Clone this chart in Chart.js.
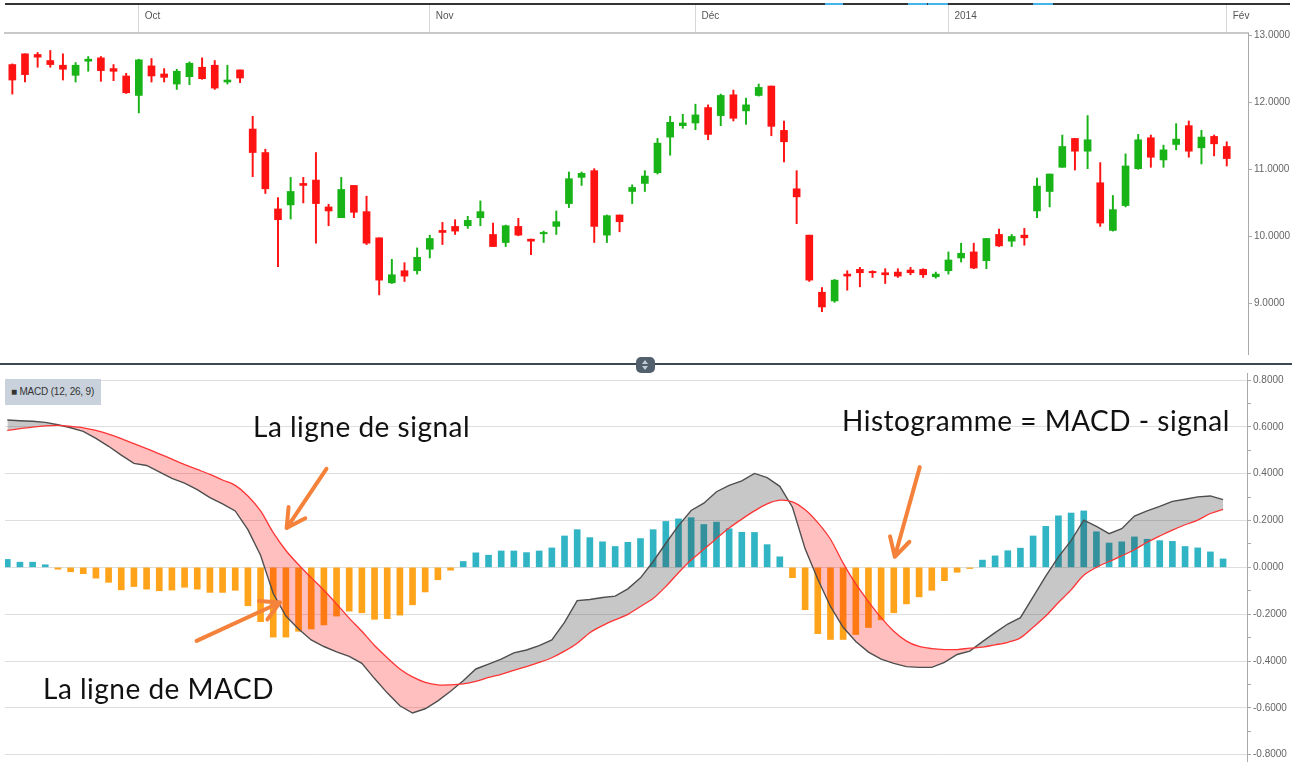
<!DOCTYPE html>
<html>
<head>
<meta charset="utf-8">
<script src="https://cdn.jsdelivr.net/npm/chart.js@4.4.1/dist/chart.umd.min.js"></script>
<style>
  html, body { margin: 0; padding: 0; background: #fff; }
  #wrap { position: relative; width: 1304px; height: 769px; overflow: hidden; background: #fff; }
  canvas { position: absolute; left: 0; }
  #price { top: 0; }
  #macd  { top: 365px; }
  .topline { position: absolute; left: 5px; top: 3px; width: 1285px; height: 2px; background: #333; }
  .blip { position: absolute; top: 3px; height: 2px; background: #45b4ea; }
  .sep { position: absolute; left: 0; top: 363px; width: 1292px; height: 2px; background: #3e4852; }
  .handle { position: absolute; left: 636px; top: 357px; width: 19px; height: 16px; border-radius: 5px; background: #52606e; }
  .handle .up, .handle .dn { position: absolute; left: 6px; width: 0; height: 0; border-left: 3.5px solid transparent; border-right: 3.5px solid transparent; }
  .handle .up { top: 3px; border-bottom: 4px solid #c3ccd6; }
  .handle .dn { top: 9px; border-top: 4px solid #c3ccd6; }
  .badge { position: absolute; left: 5px; top: 379px; width: 96px; height: 26px; background: #c9d2dc;
           font: 10px "Liberation Sans", Arial, sans-serif; color: #333; line-height: 26px; padding-left: 6px;
           box-sizing: border-box; letter-spacing: -0.2px; white-space: nowrap; }
  .note { position: absolute; font-family: Lato, "Open Sans", sans-serif; font-size: 28px; line-height: 1;
          letter-spacing: 0.5px; color: #111; white-space: nowrap; }
</style>
</head>
<body>
<div id="wrap">
  <canvas id="price" width="1293" height="362"></canvas>
  <canvas id="macd" width="1293" height="404"></canvas>
  <div class="topline"></div>
  <div class="blip" style="left:825px;width:18px"></div>
  <div class="blip" style="left:908px;width:19px"></div>
  <div class="blip" style="left:928px;width:20px"></div>
  <div class="blip" style="left:1033px;width:20px"></div>
  <div class="sep"></div>
  <div class="handle"><div class="up"></div><div class="dn"></div></div>
  <div class="badge">■ MACD (12, 26, 9)</div>
  <div class="note" style="left:253px;top:412px">La ligne de signal</div>
  <div class="note" style="left:842px;top:406px">Histogramme = MACD - signal</div>
  <div class="note" style="left:43px;top:674px">La ligne de MACD</div>
</div>
<script>
// ---- price candles (one per trading day) ----
const OPEN  = [12.56,12.72,12.71,12.62,12.55,12.40,12.61,12.66,12.50,12.39,12.10,12.54,12.42,12.27,12.38,12.52,12.55,12.30,12.48,11.60,
               11.25,10.41,10.47,10.79,10.84,10.44,10.28,10.76,10.37,9.98,9.31,9.49,9.49,9.81,10.09,10.15,10.16,10.28,10.03,9.91,
               10.15,9.96,10.04,10.15,10.49,10.88,10.98,10.02,10.32,10.67,10.79,10.95,11.48,11.65,11.69,11.92,11.80,12.11,11.87,12.10,
               12.24,11.58,10.71,10.02,9.17,9.04,9.44,9.51,9.48,9.46,9.47,9.50,9.51,9.40,9.49,9.68,9.77,9.64,10.03,9.93,
               10.02,10.38,10.67,11.03,11.46,11.27,10.80,10.09,10.46,11.01,11.47,11.14,11.37,11.65,11.32,11.49,11.34];
const HIGH  = [12.57,12.72,12.74,12.77,12.72,12.59,12.68,12.68,12.56,12.43,12.64,12.65,12.50,12.49,12.60,12.66,12.62,12.55,12.48,11.79,
               11.30,10.58,10.88,10.88,11.25,10.48,10.88,10.76,10.60,9.98,9.66,9.61,9.83,10.02,10.21,10.25,10.30,10.53,10.20,10.17,
               10.27,9.96,10.08,10.38,10.96,10.96,11.01,10.32,10.32,10.77,10.98,11.46,11.79,11.82,11.97,11.96,12.12,12.18,12.06,12.27,
               12.24,11.72,10.98,10.02,9.24,9.36,9.49,9.54,9.49,9.52,9.52,9.54,9.52,9.47,9.77,9.90,9.90,9.97,10.11,10.03,
               10.12,10.87,10.93,11.51,11.46,11.80,11.10,10.61,11.23,11.52,11.51,11.36,11.68,11.72,11.58,11.51,11.41];
const LOW   = [12.12,12.30,12.52,12.52,12.33,12.30,12.46,12.31,12.32,12.13,11.84,12.30,12.30,12.19,12.26,12.34,12.19,12.27,12.29,10.89,
               10.64,9.55,10.26,10.50,9.90,10.16,10.28,10.28,9.88,9.13,9.30,9.33,9.44,9.68,9.88,10.03,10.12,10.16,9.85,9.85,
               10.01,9.73,9.91,10.03,10.43,10.76,9.91,9.91,10.07,10.49,10.67,10.93,11.21,11.61,11.59,11.44,11.65,11.72,11.67,12.09,
               11.50,11.11,10.19,9.33,8.88,9.02,9.20,9.25,9.39,9.30,9.39,9.43,9.39,9.38,9.44,9.62,9.52,9.52,9.85,9.85,
               9.87,10.28,10.44,11.03,10.99,11.01,10.15,10.08,10.44,11.00,11.03,11.03,11.29,11.18,11.08,11.20,11.05];
const CLOSE = [12.33,12.41,12.67,12.56,12.49,12.55,12.64,12.47,12.46,12.14,12.63,12.39,12.37,12.46,12.58,12.35,12.21,12.33,12.36,11.25,
               10.71,10.25,10.67,10.76,10.49,10.38,10.70,10.36,9.90,9.35,9.43,9.41,9.69,9.97,10.06,10.08,10.24,10.37,9.85,10.16,
               10.02,9.93,10.06,10.22,10.86,10.94,10.15,10.31,10.22,10.73,10.90,11.39,11.70,11.69,11.81,11.52,12.10,11.76,11.96,12.22,
               11.64,11.41,10.59,9.35,8.95,9.35,9.41,9.46,9.46,9.43,9.41,9.46,9.43,9.44,9.65,9.75,9.53,9.97,9.86,10.00,
               9.98,10.75,10.93,11.34,11.27,11.44,10.20,10.40,11.05,11.44,11.18,11.29,11.45,11.27,11.48,11.38,11.16];

// ---- MACD (12, 26, 9) panel ----
const MACD   = [0.629,0.626,0.624,0.619,0.609,0.596,0.581,0.551,0.517,0.479,0.444,0.435,0.408,0.380,0.360,0.332,0.298,0.271,0.241,0.161,
                0.052,-0.112,-0.208,-0.263,-0.310,-0.338,-0.361,-0.380,-0.410,-0.475,-0.536,-0.591,-0.622,-0.604,-0.570,-0.529,-0.484,-0.434,-0.413,-0.392,
                -0.365,-0.353,-0.334,-0.310,-0.235,-0.142,-0.137,-0.129,-0.123,-0.092,-0.045,0.025,0.103,0.178,0.243,0.274,0.323,0.350,0.369,0.401,
                0.383,0.346,0.257,0.079,-0.051,-0.167,-0.256,-0.317,-0.362,-0.392,-0.410,-0.424,-0.427,-0.427,-0.406,-0.372,-0.358,-0.317,-0.279,-0.242,
                -0.215,-0.126,-0.037,0.045,0.114,0.202,0.175,0.144,0.165,0.219,0.241,0.260,0.282,0.291,0.301,0.305,0.289];
const SIGNAL = [0.585,0.592,0.599,0.604,0.606,0.602,0.596,0.585,0.569,0.550,0.528,0.507,0.485,0.462,0.439,0.418,0.397,0.373,0.350,0.305,
                0.241,0.148,0.072,0.011,-0.044,-0.098,-0.156,-0.217,-0.273,-0.334,-0.386,-0.434,-0.468,-0.491,-0.502,-0.502,-0.498,-0.487,-0.470,-0.457,
                -0.440,-0.424,-0.406,-0.386,-0.358,-0.324,-0.279,-0.249,-0.224,-0.201,-0.167,-0.133,-0.082,-0.023,0.031,0.077,0.123,0.168,0.206,0.241,
                0.271,0.287,0.280,0.246,0.191,0.120,0.018,-0.071,-0.146,-0.215,-0.273,-0.315,-0.338,-0.347,-0.351,-0.351,-0.345,-0.341,-0.331,-0.320,
                -0.301,-0.256,-0.208,-0.150,-0.096,-0.034,0.000,0.025,0.049,0.075,0.107,0.134,0.159,0.182,0.202,0.230,0.248];
const HIST   = [0.034,0.022,0.022,0.011,-0.008,-0.019,-0.027,-0.046,-0.064,-0.096,-0.082,-0.093,-0.100,-0.097,-0.085,-0.093,-0.107,-0.107,-0.098,-0.164,
                -0.232,-0.298,-0.298,-0.273,-0.263,-0.246,-0.208,-0.187,-0.194,-0.222,-0.219,-0.204,-0.160,-0.105,-0.053,-0.012,0.025,0.062,0.052,0.070,
                0.070,0.063,0.070,0.083,0.134,0.161,0.127,0.109,0.089,0.107,0.123,0.161,0.196,0.207,0.212,0.183,0.193,0.165,0.150,0.149,
                0.097,0.045,-0.044,-0.181,-0.283,-0.308,-0.308,-0.287,-0.257,-0.224,-0.194,-0.156,-0.126,-0.098,-0.057,-0.021,-0.005,0.031,0.049,0.071,
                0.082,0.134,0.175,0.220,0.232,0.241,0.152,0.104,0.109,0.130,0.120,0.114,0.111,0.089,0.083,0.066,0.036];

// ---- axes ----
const MONTH_IDX    = [10, 33, 54, 74, 96];
const MONTH_LABELS = ["Oct", "Nov", "Déc", "2014", "Fév"];
const PRICE_TICKS  = [9, 10, 11, 12, 13];
const MACD_TICKS   = [-0.8, -0.7, -0.6, -0.5, -0.4, -0.3, -0.2, -0.1, 0, 0.1, 0.2, 0.3, 0.4, 0.5, 0.6, 0.7, 0.8];

// annotation arrows, in MACD panel data units: [x, y] tail -> head
const ARROWS = [
  { from: [25.2, 0.421],  to: [22.06, 0.168] },
  { from: [14.95, -0.314], to: [21.53, -0.150] },
  { from: [72.05, 0.428], to: [70.08, 0.045] },
];

const GREEN = "#17b317";
const RED   = "#ff1212";
const TEAL  = "#31b5c5";
const ORANGE = "#ffa31a";
const TICK_FONT = { family: "'Liberation Sans', Arial, sans-serif", size: 10 };

const DAYS = OPEN.map((_, i) => i);
const candleColor = DAYS.map(i => CLOSE[i] >= OPEN[i] ? GREEN : RED);

/** Price panel: floating bars used as candle bodies + wicks */
new Chart(document.getElementById("price"), {
  type: "bar",
  data: {
    datasets: [
      {
        label: "body",
        data: DAYS.map(i => ({ x: i, y: [OPEN[i], CLOSE[i]] })),
        backgroundColor: candleColor,
        barThickness: 7,
        grouped: false,
        borderSkipped: false,
        order: 0,
      },
      {
        label: "wick",
        data: DAYS.map(i => ({ x: i, y: [LOW[i], HIGH[i]] })),
        backgroundColor: candleColor,
        barThickness: 1.3,
        grouped: false,
        borderSkipped: false,
        order: 1,
      },
    ],
  },
  options: {
    responsive: false,
    animation: false,
    devicePixelRatio: 1,
    layout: { padding: { left: 5, top: 4, right: 0, bottom: 0 } },
    plugins: { legend: { display: false }, tooltip: { enabled: false } },
    scales: {
      x: {
        type: "linear",
        position: "top",
        offset: false,
        min: -0.58,
        max: 97.68,
        afterBuildTicks: s => { s.ticks = MONTH_IDX.map(v => ({ value: v })); },
        afterFit: s => { s.height = 29; },
        ticks: {
          callback: (v, i) => MONTH_LABELS[i],
          align: "start",
          labelOffset: 6,
          padding: -17,
          autoSkip: false,
          maxRotation: 0,
          color: "#555",
          font: TICK_FONT,
        },
        grid: { offset: false, drawOnChartArea: false, tickLength: 28, color: "#d6d6d6", lineWidth: 1 },
        border: { color: "#c8c8c8", width: 2 },
      },
      y: {
        position: "right",
        min: 8.25,
        max: 13.03,
        afterBuildTicks: s => { s.ticks = PRICE_TICKS.map(v => ({ value: v })); },
        afterFit: s => { s.width = 45; },
        ticks: { callback: v => v.toFixed(4), color: "#666", font: TICK_FONT, padding: 2, autoSkip: false },
        grid: { drawOnChartArea: false, tickLength: 4, color: "#aaa" },
        border: { color: "#aaa", width: 1 },
      },
    },
  },
});

/** Orange annotation arrows drawn over the MACD panel */
const arrowPlugin = {
  id: "arrows",
  afterDatasetsDraw(chart) {
    const { ctx, scales: { x, y } } = chart;
    ctx.save();
    ctx.strokeStyle = "#f5823a";
    ctx.lineWidth = 4;
    ctx.lineCap = "round";
    ctx.lineJoin = "round";
    ARROWS.forEach(a => {
      const x1 = x.getPixelForValue(a.from[0]), y1 = y.getPixelForValue(a.from[1]);
      const x2 = x.getPixelForValue(a.to[0]),   y2 = y.getPixelForValue(a.to[1]);
      const ang = Math.atan2(y1 - y2, x1 - x2);
      const len = 21, spread = 0.5;
      ctx.beginPath();
      ctx.moveTo(x1, y1);
      ctx.lineTo(x2, y2);
      ctx.moveTo(x2 + len * Math.cos(ang - spread), y2 + len * Math.sin(ang - spread));
      ctx.lineTo(x2, y2);
      ctx.lineTo(x2 + len * Math.cos(ang + spread), y2 + len * Math.sin(ang + spread));
      ctx.stroke();
    });
    ctx.restore();
  },
};

const isMajor = v => Math.round(v * 10) % 2 === 0;

/** MACD panel: histogram, MACD line, signal line, shaded gap */
new Chart(document.getElementById("macd"), {
  type: "bar",
  data: {
    datasets: [
      {
        type: "line",
        label: "MACD",
        data: DAYS.map(i => ({ x: i, y: MACD[i] })),
        borderColor: "#4e4e4e",
        borderWidth: 1.4,
        pointRadius: 0,
        tension: 0,
        fill: { target: 1, above: "rgba(55,55,55,0.28)", below: "rgba(255,0,0,0.25)" },
        order: 1,
      },
      {
        type: "line",
        label: "Signal",
        data: DAYS.map(i => ({ x: i, y: SIGNAL[i] })),
        borderColor: "#ff3434",
        borderWidth: 1.3,
        pointRadius: 0,
        tension: 0.3,
        fill: false,
        order: 0,
      },
      {
        label: "Histogramme",
        data: DAYS.map(i => ({ x: i, y: HIST[i] })),
        backgroundColor: DAYS.map(i => HIST[i] >= 0 ? TEAL : ORANGE),
        barThickness: 6,
        grouped: false,
        order: 2,
      },
    ],
  },
  options: {
    responsive: false,
    animation: false,
    devicePixelRatio: 1,
    layout: { padding: { left: 5, top: 0, right: 0, bottom: 0 } },
    plugins: { legend: { display: false }, tooltip: { enabled: false } },
    scales: {
      x: { type: "linear", display: false, offset: false, min: -0.18, max: 97.89 },
      y: {
        position: "right",
        min: -0.827,
        max: 0.83,
        afterBuildTicks: s => { s.ticks = MACD_TICKS.map(v => ({ value: v })); },
        afterFit: s => { s.width = 46; },
        ticks: {
          callback: v => isMajor(v) ? v.toFixed(4) : "",
          color: "#666",
          font: TICK_FONT,
          padding: 2,
          autoSkip: false,
        },
        grid: {
          color: c => isMajor(c.tick.value) ? "#dedede" : "rgba(0,0,0,0)",
          tickColor: "#aaa",
          tickLength: 4,
          lineWidth: 1,
        },
        border: { color: "#aaa", width: 1 },
      },
    },
  },
  plugins: [arrowPlugin],
});
</script>
</body>
</html>
